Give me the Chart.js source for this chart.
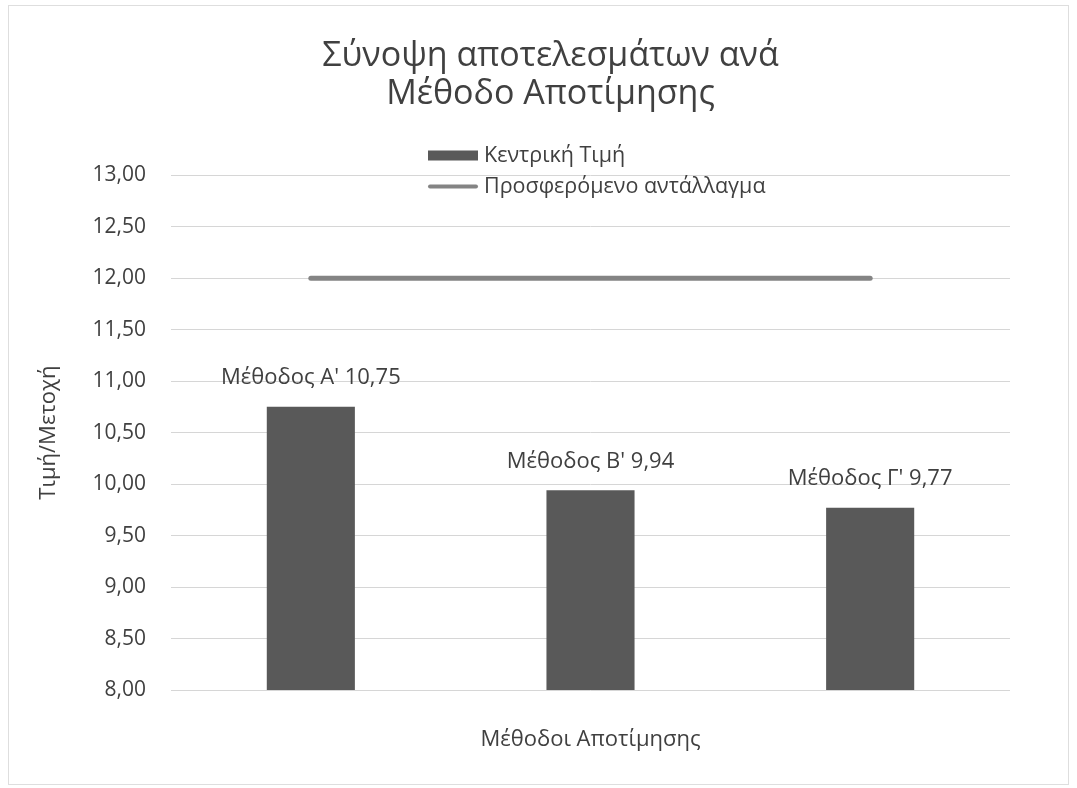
<!DOCTYPE html>
<html>
<head>
<meta charset="UTF-8">
<title>Σύνοψη αποτελεσμάτων ανά Μέθοδο Αποτίμησης</title>
<script src="https://cdn.jsdelivr.net/npm/chart.js@4.4.1/dist/chart.umd.min.js"></script>
<style>
	body { margin: 0; background: #fff; }
	#wrap {
		position: absolute;
		left: 8px;
		top: 5px;
		width: 1059px;
		height: 778px;
		border: 1px solid #dedede;
	}
</style>
</head>
<body>
<div id="wrap"><canvas id="myChart"></canvas></div>
<script>
// values
var categories = ["Μέθοδος Α'", "Μέθοδος Β'", "Μέθοδος Γ'"];
var centralValues = [10.75, 9.94, 9.77];
var offerValues = [12.00, 12.00, 12.00];
var seriesNames = ["Κεντρική Τιμή", "Προσφερόμενο αντάλλαγμα"];
var titleLines = ["Σύνοψη αποτελεσμάτων ανά", "Μέθοδο Αποτίμησης"];
var yTitle = "Τιμή/Μετοχή";
var xTitle = "Μέθοδοι Αποτίμησης";
var yMin = 8, yMax = 13, yStep = 0.5;

var textColor = '#404040';
var fontFamily = '"Open Sans", sans-serif';

function fmt(v) {
	return Number(v).toFixed(2).replace('.', ',');
}

// legend stacked in two rows, above the plot like the original
const stackedLegend = {
	id: 'stackedLegend',
	afterDraw(chart) {
		const ctx = chart.ctx;
		ctx.save();
		ctx.font = '21.5px ' + fontFamily;
		ctx.textBaseline = 'middle';
		ctx.textAlign = 'left';
		chart.data.datasets.forEach((ds, i) => {
			const y = 149.5 + i * 31;
			if (ds.type === 'line') {
				ctx.strokeStyle = ds.borderColor;
				ctx.lineWidth = 4;
				ctx.lineCap = 'round';
				ctx.beginPath();
				ctx.moveTo(421, y);
				ctx.lineTo(467, y);
				ctx.stroke();
			} else {
				ctx.fillStyle = ds.backgroundColor;
				ctx.fillRect(419, y - 5, 50, 10);
			}
			ctx.fillStyle = textColor;
			ctx.fillText(ds.label, 475, y);
		});
		ctx.restore();
	}
};

// "Μέθοδος Α' 10,75" above each bar
const barLabels = {
	id: 'barLabels',
	afterDatasetsDraw(chart) {
		const ctx = chart.ctx;
		const meta = chart.getDatasetMeta(0);
		ctx.save();
		ctx.font = '22px ' + fontFamily;
		ctx.fillStyle = textColor;
		ctx.textAlign = 'center';
		ctx.textBaseline = 'middle';
		meta.data.forEach((bar, i) => {
			const txt = chart.data.labels[i] + ' ' + fmt(chart.data.datasets[0].data[i]);
			ctx.fillText(txt, bar.x, bar.y - 29);
		});
		ctx.restore();
	}
};

Chart.defaults.font.family = fontFamily;
Chart.defaults.color = textColor;

const ctx = document.getElementById('myChart').getContext('2d');

const config = {
	type: 'bar',
	data: {
		labels: categories,
		datasets: [{
			type: 'bar',
			label: seriesNames[0],
			data: centralValues,
			backgroundColor: '#595959',
			barPercentage: 0.315,
			categoryPercentage: 1.0
		},
		{
			type: 'line',
			label: seriesNames[1],
			data: offerValues,
			borderColor: '#848484',
			borderWidth: 5,
			borderCapStyle: 'round',
			pointRadius: 0,
			fill: false
		}]
	},
	options: {
		responsive: true,
		maintainAspectRatio: false,
		animation: false,
		layout: {
			padding: { left: 24, right: 0, top: 10, bottom: 27 }
		},
		plugins: {
			legend: { display: false },
			tooltip: { enabled: false },
			title: {
				display: true,
				text: titleLines,
				color: textColor,
				font: { size: 34, weight: 'normal', lineHeight: 1.12 },
				padding: { top: 21, bottom: 62 }
			}
		},
		scales: {
			x: {
				grid: { display: false },
				border: { display: false },
				ticks: { display: false },
				title: {
					display: true,
					text: xTitle,
					color: textColor,
					font: { size: 22 },
					padding: { top: 4, bottom: 4 }
				},
				afterFit(scale) { scale.height = 67; }
			},
			y: {
				min: yMin,
				max: yMax,
				ticks: {
					stepSize: yStep,
					padding: 25,
					color: textColor,
					font: { size: 21 },
					callback: (v) => fmt(v)
				},
				grid: { color: '#d6d6d6', drawTicks: false },
				border: { display: false },
				title: {
					display: true,
					text: yTitle,
					color: textColor,
					font: { size: 22 },
					padding: { top: 3, bottom: 4 }
				},
				afterFit(scale) { scale.width = 138; }
			},
			yRight: {
				position: 'right',
				grid: { display: false },
				border: { display: false },
				ticks: { display: false },
				afterFit(scale) { scale.width = 58; }
			}
		}
	},
	plugins: [stackedLegend, barLabels]
};

const myChart = new Chart(ctx, config);
</script>
</body>
</html>
